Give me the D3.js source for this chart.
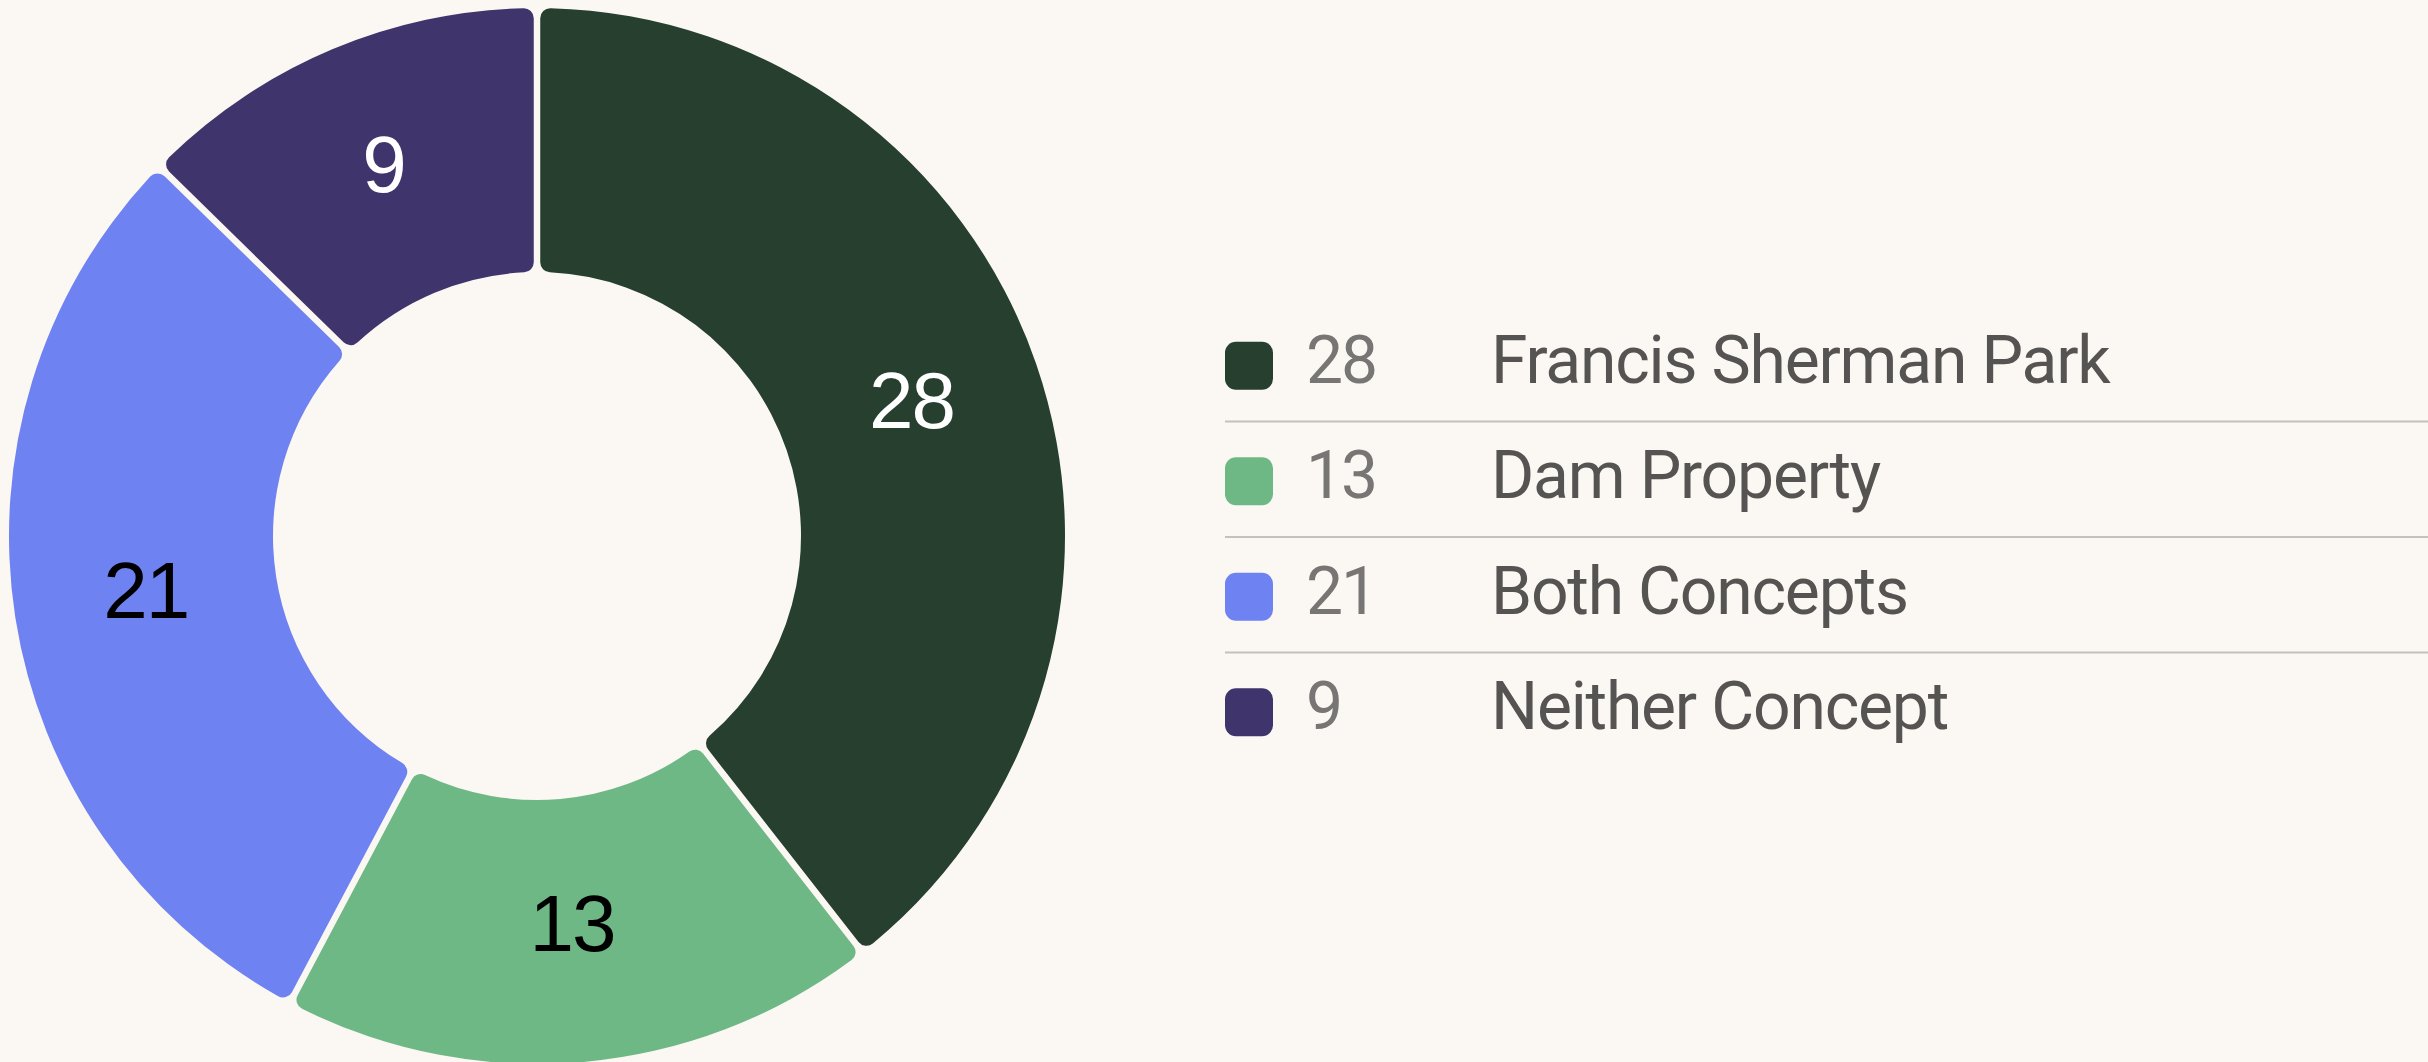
<!DOCTYPE html>
<html>
<head>
<meta charset="utf-8">
<script src="https://cdn.jsdelivr.net/npm/d3@7"></script>
<style>
	html, body { margin: 0; padding: 0; background: #fbf7f2; }
	svg { display: block; }
</style>
</head>
<body>
<div id="chart"></div>
<script>
// chart data
const categories = ["Francis Sherman Park", "Dam Property", "Both Concepts", "Neither Concept"];
const counts = [28, 13, 21, 9];
const sliceColors = ["#263f2f", "#6eb886", "#6f82f2", "#3f346b"];
const labelColors = ["#ffffff", "#000000", "#000000", "#ffffff"];

const width = 2428;
const height = 1062;
const cx = 537, cy = 536;
const outerR = 528, innerR = 264;

const svg = d3
	.select("#chart")
	.append("svg")
	.attr("width", width)
	.attr("height", height);

svg.append("rect")
	.attr("width", width)
	.attr("height", height)
	.attr("fill", "#fbf7f2");

const colorScale = d3.scaleOrdinal().domain(categories).range(sliceColors);
const labelColorScale = d3.scaleOrdinal().domain(categories).range(labelColors);

const dataReady = categories.map((name, i) => ({ name: name, value: counts[i] }));

// keep the order of the data, clockwise from 12 o'clock
const pie = d3.pie().value((d) => d.value).sort(null);

const arc = d3
	.arc()
	.innerRadius(innerR)
	.outerRadius(outerR)
	.padAngle(0.011)
	.cornerRadius(10);

const labelArc = d3.arc().innerRadius(innerR).outerRadius(outerR);

const donut = svg.append("g").attr("transform", `translate(${cx}, ${cy})`);

donut.selectAll("path")
	.data(pie(dataReady))
	.join("path")
	.attr("d", arc)
	.attr("fill", (d) => colorScale(d.data.name));

donut.selectAll("text")
	.data(pie(dataReady))
	.join("text")
	.attr("x", (d) => labelArc.centroid(d)[0])
	.attr("y", (d) => labelArc.centroid(d)[1] - 8)
	.attr("dy", "0.36em")
	.attr("text-anchor", "middle")
	.style("font-family", "'Liberation Sans', Arial, sans-serif")
	.style("font-size", "80px")
	.style("letter-spacing", "-2px")
	.attr("fill", (d) => labelColorScale(d.data.name))
	.text((d) => d.data.value);

// legend
const yScale = d3
	.scaleBand()
	.domain(categories)
	.range([308, 770]);

const legend = svg.append("g");

legend.selectAll("line")
	.data(categories.slice(1))
	.join("line")
	.attr("x1", 1225)
	.attr("x2", width)
	.attr("y1", (d) => yScale(d) - 2)
	.attr("y2", (d) => yScale(d) - 2)
	.attr("stroke", "#c4c0ba")
	.attr("stroke-width", 2);

const rows = legend
	.selectAll("g.row")
	.data(dataReady)
	.join("g")
	.attr("class", "row")
	.attr("transform", (d) => `translate(0, ${yScale(d.name) + yScale.bandwidth() / 2})`);

rows.append("rect")
	.attr("x", 1225)
	.attr("y", -24)
	.attr("width", 48)
	.attr("height", 48)
	.attr("rx", 11)
	.attr("fill", (d) => colorScale(d.name));

rows.append("text")
	.attr("x", 1306)
	.attr("y", 17)
	.style("font-family", "Roboto, 'Liberation Sans', sans-serif")
	.style("font-size", "66px")
	.style("letter-spacing", "-2px")
	.attr("fill", "#777674")
	.text((d) => d.value);

rows.append("text")
	.attr("x", 1491)
	.attr("y", 17)
	.style("font-family", "Roboto, 'Liberation Sans', sans-serif")
	.style("font-size", "66px")
	.style("letter-spacing", "-1.2px")
	.attr("fill", "#555453")
	.text((d) => d.name);
</script>
</body>
</html>
